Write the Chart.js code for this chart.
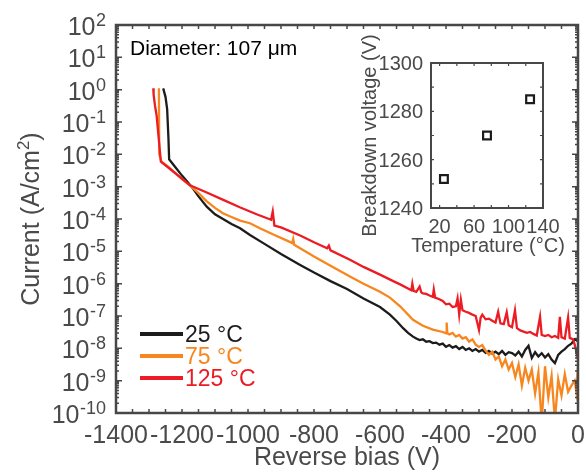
<!DOCTYPE html>
<html>
<head>
<meta charset="utf-8">
<script src="https://cdn.jsdelivr.net/npm/chart.js@4.4.0/dist/chart.umd.min.js"></script>
<style>
  html, body { margin: 0; padding: 0; background: #fff; }
  #wrap { position: relative; width: 586px; height: 472px; }
  #inset { position: absolute; left: 340px; top: 20px; }
</style>
</head>
<body>
<div id="wrap">
  <canvas id="main" width="586" height="472"></canvas>
  <canvas id="inset" width="246" height="240"></canvas>
</div>
<script>
// ---- data ----
const volts25 = [
  -1257, -1250, -1245, -1241, -1239, -1220, -1200, -1171, -1150, -1125,
  -1100, -1050, -1024, -994, -950, -900, -842, -800, -750, -700,
  -650, -600, -570, -550, -530, -515, -500, -490, -480, -470,
  -460, -450, -440, -430, -420, -410, -400, -390, -380, -370,
  -360, -350, -340, -330, -320, -310, -300, -290, -280, -270,
  -260, -250, -240, -230, -220, -210, -200, -190, -180, -170,
  -160, -150, -140, -130, -120, -110, -100, -90, -80, -70,
  -60, -50, -40, -30, -20, -10, 0
];
const current25 = [
  1.1, 0.6, 0.25, 0.03, 7e-3, 4e-3, 2.2e-3, 1e-3, 5e-4, 2.4e-4,
  1.4e-4, 7e-5, 5.2e-5, 3.2e-5, 1.7e-5, 8.3e-6, 3.8e-6, 2.2e-6, 1.2e-6, 6.8e-7,
  3.5e-7, 1.9e-7, 1.1e-7, 7e-8, 4.2e-8, 3e-8, 2.3e-8, 2.0e-8, 1.8e-8, 1.9e-8,
  1.6e-8, 1.66e-8, 1.45e-8, 1.5e-8, 1.3e-8, 1.4e-8, 1.12e-8, 1.26e-8, 1.05e-8, 1.17e-8,
  9.5e-9, 1.1e-8, 8.9e-9, 1.0e-8, 8.3e-9, 9.5e-9, 7.9e-9, 8.9e-9, 7.2e-9, 8.3e-9,
  6.9e-9, 7.9e-9, 6.6e-9, 8.3e-9, 6.3e-9, 7.6e-9, 7.1e-9, 6.0e-9, 7.9e-9, 5.6e-9,
  8.9e-9, 1.2e-8, 5.0e-9, 7.6e-9, 5.6e-9, 7.1e-9, 5.2e-9, 6.6e-9, 4.5e-9, 3.5e-9,
  6.3e-9, 7.9e-9, 9.5e-9, 1.2e-8, 1.4e-8, 1.9e-8, 1.66e-8
];

const volts75 = [
  -1270, -1269, -1262, -1240, -1220, -1200, -1176, -1150, -1125, -1100,
  -1076, -1050, -1024, -994, -964, -920, -880, -866, -863, -860,
  -800, -750, -691, -650, -600, -570, -539, -500, -470, -440,
  -410, -400, -398, -396, -390, -380, -370, -360, -350, -340,
  -330, -320, -310, -300, -290, -280, -270, -260, -250, -240,
  -230, -220, -210, -200, -190, -180, -170, -160, -150, -140,
  -130, -120, -110, -100, -90, -80, -70, -60, -50, -40,
  -30, -20, -10, -5, 0
];
const current75 = [
  1.1, 1e-2, 5.9e-3, 4e-3, 2.6e-3, 1.7e-3, 1.1e-3, 6.3e-4, 3.5e-4, 2.2e-4,
  1.5e-4, 1.15e-4, 8.9e-5, 7.4e-5, 5.2e-5, 3.2e-5, 2.1e-5, 1.8e-5, 2.4e-5, 1.6e-5,
  6.9e-6, 3.6e-6, 1.66e-6, 1.0e-6, 5.6e-7, 3.7e-7, 2.0e-7, 7.6e-8, 5.0e-8, 3.8e-8,
  3.2e-8, 2.9e-8, 6.3e-8, 2.9e-8, 2.7e-8, 3.0e-8, 2.3e-8, 2.6e-8, 2.0e-8, 2.2e-8,
  1.6e-8, 1.9e-8, 1.3e-8, 1.1e-8, 1.26e-8, 8.5e-9, 6.3e-9, 7.9e-9, 4.5e-9, 5.6e-9,
  2.8e-9, 4.5e-9, 2.2e-9, 3.5e-9, 1.3e-9, 3.2e-9, 7e-10, 2.5e-9, 1.0e-9, 2.2e-9,
  4e-10, 1.8e-9, 5e-11, 2.8e-9, 3e-10, 1.4e-9, 6e-11, 1.1e-9, 3.5e-10, 1.6e-9,
  4.5e-10, 7e-10, 1.0e-9, 4.5e-10, 2.8e-9
];

const volts125 = [
  -1287, -1286, -1282, -1277, -1264, -1220, -1176, -1125, -1075, -1025,
  -974, -930, -925, -920, -900, -842, -800, -760, -755, -750,
  -691, -650, -600, -560, -539, -505, -502, -498, -490, -480,
  -475, -470, -460, -450, -440, -437, -433, -420, -410, -400,
  -390, -380, -370, -365, -360, -355, -350, -340, -330, -320,
  -310, -300, -295, -290, -280, -270, -260, -250, -242, -235,
  -225, -216, -210, -200, -191, -185, -175, -165, -155, -145,
  -135, -125, -115, -110, -100, -90, -80, -70, -60, -55,
  -50, -40, -30, -25, -15, -10, -5, 0
];
const current125 = [
  1.1, 0.7, 0.33, 0.16, 5.9e-3, 2.6e-3, 1.1e-3, 6.6e-4, 3.9e-4, 2.3e-4,
  1.4e-4, 9.5e-5, 1.7e-4, 6.3e-5, 5.5e-5, 3.1e-5, 1.9e-5, 1.25e-5, 1.5e-5, 1.07e-5,
  5.5e-6, 3.3e-6, 1.9e-6, 1.2e-6, 9.5e-7, 6.3e-7, 1.0e-6, 6.0e-7, 5.6e-7, 8.1e-7,
  5.4e-7, 5.0e-7, 4.8e-7, 4.3e-7, 3.9e-7, 6.6e-7, 3.7e-7, 3.3e-7, 2.9e-7, 2.3e-7,
  2.4e-7, 1.9e-7, 2.0e-7, 3.5e-7, 1.1e-7, 3.2e-7, 1.5e-7, 1.35e-7, 1.25e-7, 1.1e-7,
  1.0e-7, 3.7e-8, 8.9e-8, 1.1e-7, 7.9e-8, 8.3e-8, 7.1e-8, 6.3e-8, 1.35e-7, 5.9e-8,
  5.6e-8, 1.3e-7, 5.2e-8, 4.5e-8, 1.5e-7, 4.2e-8, 3.6e-8, 3.3e-8, 3.0e-8, 3.2e-8,
  2.8e-8, 2.5e-8, 9.5e-8, 2.6e-8, 2.4e-8, 2.6e-8, 2.2e-8, 2.4e-8, 2.1e-8, 9.5e-8,
  2.2e-8, 2.0e-8, 9.0e-8, 2.1e-8, 1.9e-8, 1.3e-8, 8.0e-9, 4.5e-9
];

const seriesLabels = ['25 °C', '75 °C', '125 °C'];
const xTicks = [-1400, -1200, -1000, -800, -600, -400, -200, 0];
const yDecades = [-10, -9, -8, -7, -6, -5, -4, -3, -2, -1, 0, 1, 2];

// inset: breakdown voltage vs temperature
const temperatures = [25, 75, 125];
const breakdown = [1252, 1270, 1285];
const insetXTicks = [20, 60, 100, 140];
const insetYTicks = [1240, 1260, 1280, 1300];

// ---- styling ----
const FONT = '"Liberation Sans", Arial, sans-serif';
const AXIS = '#474747';
const TEXT = '#4a4a4a';
const colors = ['#1c1c1c', '#f7861f', '#ec1c24'];

const pts = (xs, ys) => xs.map((v, k) => ({ x: v, y: ys[k] }));

const mainAxes = {
    id: 'mainAxes',
    afterDraw(chart) {
        const { ctx, chartArea: a } = chart;
        const x = chart.scales.x, y = chart.scales.y;
        ctx.save();

        // inward ticks on all four sides
        ctx.strokeStyle = AXIS;
        ctx.lineWidth = 1.5;
        ctx.beginPath();
        for (let v = -1400; v <= 0; v += 50) {
            const px = x.getPixelForValue(v);
            ctx.moveTo(px, a.bottom); ctx.lineTo(px, a.bottom - 4);
            ctx.moveTo(px, a.top); ctx.lineTo(px, a.top + 4);
        }
        for (const n of yDecades) {
            for (let m = 1; m <= 9; m++) {
                if (n === 2 && m > 1) break;
                const py = y.getPixelForValue(m * Math.pow(10, n));
                const len = m === 1 ? 6 : 3;
                ctx.moveTo(a.left, py); ctx.lineTo(a.left + len, py);
                ctx.moveTo(a.right, py); ctx.lineTo(a.right - len, py);
            }
        }
        ctx.stroke();
        ctx.lineWidth = 2.5;
        ctx.strokeRect(a.left, a.top, a.right - a.left, a.bottom - a.top);

        // x tick labels
        ctx.fillStyle = TEXT;
        ctx.font = '25px ' + FONT;
        ctx.textAlign = 'center';
        ctx.textBaseline = 'alphabetic';
        for (const v of xTicks) {
            ctx.fillText(String(v), x.getPixelForValue(v), a.bottom + 30);
        }

        // y tick labels 10^n
        for (const n of yDecades) {
            const py = y.getPixelForValue(Math.pow(10, n));
            const sup = String(n);
            ctx.font = '18px ' + FONT;
            ctx.textAlign = 'left';
            const sw = ctx.measureText(sup).width;
            const supX = a.left - 10 - sw;
            ctx.fillText(sup, supX, py + 1);
            ctx.font = '25px ' + FONT;
            ctx.textAlign = 'right';
            ctx.fillText('10', supX - 0.5, py + 10);
        }

        // axis titles
        ctx.font = '25px ' + FONT;
        ctx.textAlign = 'center';
        ctx.fillText('Reverse bias (V)', (a.left + a.right) / 2, 465);

        ctx.save();
        ctx.translate(39, (a.top + a.bottom) / 2);
        ctx.rotate(-Math.PI / 2);
        ctx.textAlign = 'left';
        ctx.font = '25px ' + FONT;
        const t1 = 'Current (A/cm', t3 = ')';
        const w1 = ctx.measureText(t1).width, w3 = ctx.measureText(t3).width;
        ctx.font = '17px ' + FONT;
        const w2 = ctx.measureText('2').width;
        let sx = -(w1 + w2 + w3) / 2;
        ctx.font = '25px ' + FONT;
        ctx.fillText(t1, sx, 0);
        ctx.font = '17px ' + FONT;
        ctx.fillText('2', sx + w1, -10);
        ctx.font = '25px ' + FONT;
        ctx.fillText(t3, sx + w1 + w2, 0);
        ctx.restore();

        // annotation
        ctx.fillStyle = '#000';
        ctx.font = '21px ' + FONT;
        ctx.textAlign = 'left';
        ctx.fillText('Diameter: 107 μm', 130, 55);

        // legend
        const ly = [334, 356, 378];
        chart.data.datasets.forEach((ds, k) => {
            ctx.strokeStyle = ds.borderColor;
            ctx.lineWidth = 4;
            ctx.beginPath();
            ctx.moveTo(140, ly[k]); ctx.lineTo(183, ly[k]);
            ctx.stroke();
            ctx.fillStyle = ds.borderColor;
            ctx.font = '23px ' + FONT;
            ctx.fillText(ds.label, 185, ly[k] + 8);
        });
        ctx.restore();
    }
};

const insetAxes = {
    id: 'insetAxes',
    afterDraw(chart) {
        const { ctx, chartArea: a } = chart;
        const x = chart.scales.x, y = chart.scales.y;
        ctx.save();
        ctx.strokeStyle = AXIS;
        ctx.lineWidth = 1.2;
        ctx.beginPath();
        for (let v = 20; v <= 140; v += 20) {
            const px = x.getPixelForValue(v);
            ctx.moveTo(px, a.bottom); ctx.lineTo(px, a.bottom - 3);
            ctx.moveTo(px, a.top); ctx.lineTo(px, a.top + 3);
        }
        for (let v = 1240; v <= 1300; v += 10) {
            const py = y.getPixelForValue(v);
            ctx.moveTo(a.left, py); ctx.lineTo(a.left + 3, py);
            ctx.moveTo(a.right, py); ctx.lineTo(a.right - 3, py);
        }
        ctx.stroke();
        ctx.lineWidth = 2;
        ctx.strokeRect(a.left, a.top, a.right - a.left, a.bottom - a.top);

        ctx.fillStyle = TEXT;
        ctx.font = '20px ' + FONT;
        ctx.textAlign = 'right';
        for (const v of insetYTicks) {
            ctx.fillText(String(v), a.left - 8, y.getPixelForValue(v) + 7);
        }
        ctx.textAlign = 'center';
        for (const v of insetXTicks) {
            ctx.fillText(String(v), x.getPixelForValue(v), a.bottom + 25);
        }
        ctx.fillText('Temperature (°C)', (a.left + a.right) / 2 + 1, a.bottom + 44);

        ctx.translate(36, (a.top + a.bottom) / 2);
        ctx.rotate(-Math.PI / 2);
        ctx.fillText('Breakdown voltage (V)', 0, 0);
        ctx.restore();
    }
};

new Chart(document.getElementById('main'), {
    type: 'scatter',
    data: {
        datasets: [
            { label: seriesLabels[0], data: pts(volts25, current25), borderColor: colors[0], order: 3 },
            { label: seriesLabels[1], data: pts(volts75, current75), borderColor: colors[1], order: 2 },
            { label: seriesLabels[2], data: pts(volts125, current125), borderColor: colors[2], order: 1 }
        ].map(ds => Object.assign(ds, {
            showLine: true,
            pointRadius: 0,
            borderWidth: 2.3,
            backgroundColor: ds.borderColor,
            tension: 0
        }))
    },
    options: {
        responsive: false,
        animation: false,
        devicePixelRatio: 1,
        layout: { padding: { left: 116, top: 25, right: 8, bottom: 59 } },
        plugins: { legend: { display: false }, tooltip: { enabled: false } },
        scales: {
            x: { type: 'linear', min: -1400, max: 0, display: false },
            y: { type: 'logarithmic', min: 1e-10, max: 1e2, display: false }
        }
    },
    plugins: [mainAxes]
});

new Chart(document.getElementById('inset'), {
    type: 'scatter',
    data: {
        datasets: [{
            label: 'Breakdown voltage',
            data: pts(temperatures, breakdown),
            pointStyle: 'rect',
            pointRadius: 5.5,
            borderWidth: 2.2,
            borderColor: '#1c1c1c',
            backgroundColor: 'rgba(255,255,255,0)'
        }]
    },
    options: {
        responsive: false,
        animation: false,
        devicePixelRatio: 1,
        layout: { padding: { left: 91, top: 43, right: 43, bottom: 52 } },
        plugins: { legend: { display: false }, tooltip: { enabled: false } },
        scales: {
            x: { type: 'linear', min: 10, max: 140, display: false },
            y: { type: 'linear', min: 1240, max: 1300, display: false }
        }
    },
    plugins: [insetAxes]
});
</script>
</body>
</html>
